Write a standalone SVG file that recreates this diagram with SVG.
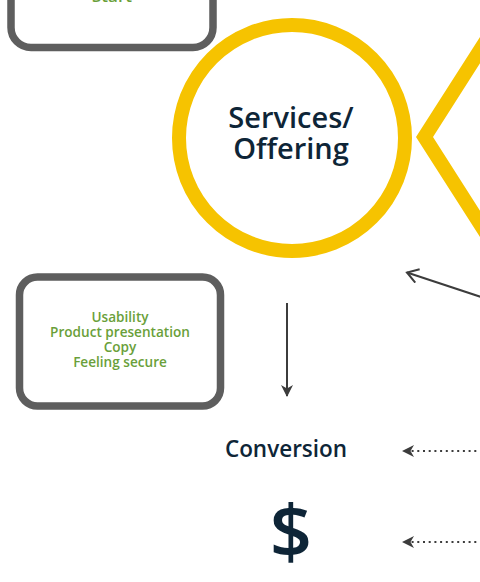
<svg xmlns="http://www.w3.org/2000/svg" width="480" height="582" viewBox="0 0 480 582">
<style>
.box{fill:#fff;stroke:#5e5e5e;stroke-width:7.5}
.green{font-family:"Open Sans",Lato,sans-serif;font-weight:600;fill:#6a9f3a;text-anchor:middle}
.navy{font-family:"Open Sans",Lato,sans-serif;font-weight:600;fill:#0e2537;text-anchor:middle}
.conn{stroke:#3c3c3c;stroke-width:2;fill:none}
.dot{stroke:#3c3c3c;stroke-width:2;fill:none;stroke-dasharray:2 3.7}
</style>
<defs>
<marker id="fill" markerUnits="userSpaceOnUse" markerWidth="12" markerHeight="12" refX="11" refY="6" orient="auto" viewBox="0 0 12 12">
<path d="M0,0 L12,6 L0,12 L3.5,6 z" fill="#3c3c3c"/>
</marker>
<marker id="open" markerUnits="userSpaceOnUse" markerWidth="14" markerHeight="16" refX="12" refY="8" orient="auto" viewBox="0 0 14 16">
<path d="M1,1 L12,8 L1,15" fill="none" stroke="#3c3c3c" stroke-width="2"/>
</marker>
</defs>
<rect width="480" height="582" fill="#fff"/>
<g id="start">
<rect class="box" x="11" y="-120" width="202" height="167.5" rx="20"/>
<text class="green" x="112" y="2" font-size="17">Start</text>
</g>
<g id="services">
<circle cx="292" cy="138" r="113" fill="none" stroke="#f6c300" stroke-width="14"/>
<text class="navy" x="291" y="128" font-size="29">Services/</text>
<text class="navy" x="291" y="159" font-size="29">Offering</text>
</g>
<g id="chevron">
<polygon points="416,137 482,34 482,60 433,137 482,214 482,240" fill="#f6c300"/>
</g>
<g id="factors">
<rect class="box" x="19.5" y="277" width="201" height="129" rx="18"/>
<text class="green" x="120" y="322" font-size="13.6">Usability</text>
<text class="green" x="120" y="337" font-size="13.6">Product presentation</text>
<text class="green" x="120" y="352" font-size="13.6">Copy</text>
<text class="green" x="120" y="367" font-size="13.6">Feeling secure</text>
</g>
<g id="conversion">
<text class="navy" x="286" y="457" font-size="22.5">Conversion</text>
</g>
<g id="dollar">
<text class="navy" x="291" y="558" font-size="74">$</text>
</g>
<g id="connectors">
<line class="conn" x1="287" y1="303" x2="287" y2="396" marker-end="url(#fill)"/>
<line class="conn" x1="484" y1="298" x2="407" y2="272.5" marker-end="url(#open)"/>
<line class="dot" x1="482" y1="451" x2="403" y2="451" marker-end="url(#fill)"/>
<line class="dot" x1="482" y1="542" x2="403" y2="542" marker-end="url(#fill)"/>
</g>
</svg>
